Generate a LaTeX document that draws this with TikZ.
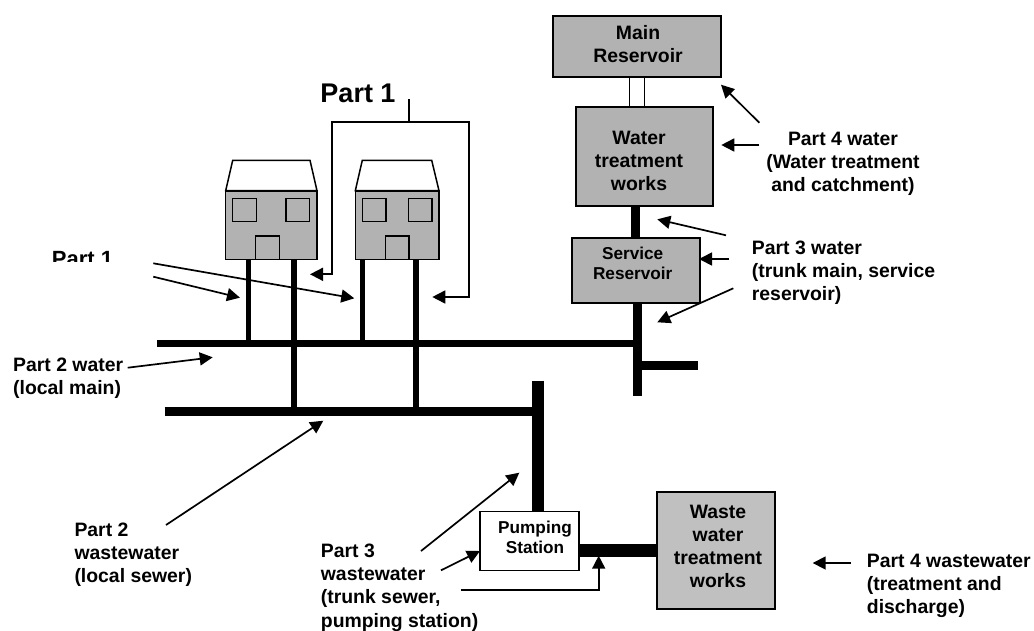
\documentclass[tikz,border=0pt]{standalone}
\usepackage{fontspec}
\setmainfont{Liberation Sans}
\usetikzlibrary{calc, positioning, arrows.meta}
\definecolor{boxgray}{HTML}{B2B2B2}
\definecolor{wastegray}{HTML}{C0C0C0}
\tikzset{
  graybox/.style={draw, rectangle, line width=1.6pt, fill=boxgray, inner sep=0pt, outer sep=0pt},
  partlabel/.style={font=\fontsize{19.4}{23.2}\selectfont\bfseries, align=left, inner sep=0pt},
  boxlabel/.style={font=\fontsize{19.4}{23}\selectfont\bfseries, align=center, inner sep=0pt},
  smalllabel/.style={font=\fontsize{17.2}{20}\selectfont\bfseries, align=center, inner sep=0pt},
  callout/.style={line width=1.7pt, -{Triangle[length=13pt, width=13pt]}},
  pipe/.style={line width=#1, line cap=butt},
  detail/.style={draw, line width=1.5pt}
}
\begin{document}
\begin{tikzpicture}[x=1pt, y=-1pt]
  \useasboundingbox (0,0) rectangle (1034,630);

  % water side boxes
  \node[graybox, minimum width=168pt, minimum height=61pt] (mainres) at (636.8,46.5) {};
  \node[boxlabel] (mainrestext) at (638,44) {Main\\Reservoir};
  \node[graybox, minimum width=137pt, minimum height=99pt] (watertreat) at (644.4,156.5) {};
  \node[boxlabel] (watertext) at (639,161) {Water\\treatment\\works};
  \node[graybox, minimum width=128pt, minimum height=65pt] (servres) at (635.8,270.4) {};
  \node[smalllabel] (servtext) at (632.7,263.5) {Service\\Reservoir};

  % wastewater side boxes
  \node[graybox, fill=white, minimum width=99pt, minimum height=59pt] (pumping) at (529.6,540.8) {};
  \node[smalllabel] (pumptext) at (535,537.5) {Pumping\\Station};
  \node[graybox, fill=wastegray, minimum width=118pt, minimum height=117pt] (wastetreat) at (716,550.7) {};
  \node[boxlabel] (wastetext) at (718,546) {Waste\\water\\treatment\\works};

  % houses
  \draw[detail, fill=white] (225.7,190.7) -- (232.7,160.3) -- (310,160.3) -- (317,190.7) -- cycle;
  \draw[detail, fill=white] (355.3,190.7) -- (362.3,160.3) -- (431.7,160.3) -- (439,190.7) -- cycle;
  \node[graybox, minimum width=91.3pt, minimum height=68.6pt] (house1) at (271.3,225) {};
  \node[graybox, minimum width=83.7pt, minimum height=68.6pt] (house2) at (397.2,225) {};
  \foreach \x in {232.7, 286, 362.3, 408.3} {
    \draw[detail] (\x,198.3) rectangle ++(23.6,23);
  }
  \foreach \x in {255.7, 385.3} {
    \draw[detail] (\x,259.3) rectangle ++(23.6,-23.3);
  }

  % pipe junctions
  \coordinate (mainstart) at (157,343.3);
  \coordinate (mainend) at (637,343.3);
  \coordinate (tap1) at (248.3,343.3);
  \coordinate (tap2) at (362.7,343.3);
  \coordinate (sewerstart) at (164.7,411.3);
  \coordinate (sewerend) at (538,411.3);
  \coordinate (drain1) at (294,411.3);
  \coordinate (drain2) at (415.7,411.3);
  \coordinate (trunkend) at (637,395.7);
  \coordinate (branchstart) at (637,365.5);
  \coordinate (branchend) at (697.5,365.5);
  \coordinate (sewertop) at (538,380.7);

  \draw[pipe=6.5pt] (mainstart) -- (mainend);
  \draw[pipe=9pt] (sewerstart) -- (sewerend);
  \draw[pipe=4.7pt] (house1.south -| tap1) -- (tap1);
  \draw[pipe=4.7pt] (house2.south -| tap2) -- (tap2);
  \draw[pipe=6pt] (house1.south -| drain1) -- (drain1);
  \draw[pipe=6pt] (house2.south -| drain2) -- (drain2);
  \draw[pipe=9pt] (watertreat.south -| servres) -- (servres.north);
  \draw[pipe=9pt] (servres.south) ++(1.2,0) -- (trunkend);
  \draw[pipe=9pt] (branchstart) -- (branchend);
  \draw[pipe=12.7pt] (sewertop) -- (sewertop |- pumping.north);
  \draw[pipe=12.7pt] (pumping.east |- 0,550.3) -- (wastetreat.west |- 0,550.3);
  \draw[line width=1.3pt] ([xshift=-7.5pt]mainres.south) -- ([xshift=-7.5pt]mainres.south |- watertreat.north);
  \draw[line width=1.3pt] ([xshift=7.5pt]mainres.south) -- ([xshift=7.5pt]mainres.south |- watertreat.north);

  % labels
  \node[font=\fontsize{27}{30}\selectfont\bfseries, inner sep=0pt] (parttop) at (358,93) {Part 1};
  \begin{scope}
    \clip (40,240) rectangle (130,261.5);
    \node[font=\fontsize{22}{26}\selectfont\bfseries, inner sep=0pt] (partleft) at (82.5,259) {Part 1};
  \end{scope}
  \node[partlabel, anchor=west] (part2water) at (13,378) {Part 2 water\\(local main)};
  \node[partlabel, anchor=west] (part2waste) at (74.3,554.5) {Part 2\\wastewater\\(local sewer)};
  \node[partlabel, anchor=west] (part3waste) at (320.7,587.5) {Part 3\\wastewater\\(trunk sewer,\\pumping station)};
  \node[partlabel, align=center] (part4water) at (843,164) {Part 4 water\\(Water treatment\\and catchment)};
  \node[partlabel, anchor=west] (part3water) at (751.7,272.5) {Part 3 water\\(trunk main, service\\reservoir)};
  \node[partlabel, anchor=west] (part4waste) at (866.7,586) {Part 4 wastewater\\(treatment and\\discharge)};

  % part 1 bracket
  \coordinate (stemtop) at (408.7,99.3);
  \coordinate (stemfoot) at (408.7,122.3);
  \coordinate (bracketleft) at (331.7,122.3);
  \coordinate (bracketright) at (469.3,122.3);
  \coordinate (tipleft) at (310,274.3);
  \coordinate (tipright) at (432.3,297);
  \draw[line width=1.7pt] (stemtop) -- (stemfoot);
  \draw[callout] (stemfoot) -- (bracketleft) |- (tipleft);
  \draw[callout] (stemfoot) -- (bracketright) |- (tipright);

  % free callouts
  \coordinate (a1) at (153.3,263.3);  \coordinate (b1) at (354.3,298.3);
  \coordinate (a2) at (153.3,276.7);  \coordinate (b2) at (240,297.7);
  \coordinate (a3) at (127.7,367.7);  \coordinate (b3) at (212.7,357.3);
  \coordinate (a4) at (166,525);      \coordinate (b4) at (323.3,420.7);
  \coordinate (a5) at (421,551);      \coordinate (b5) at (519.3,472.7);
  \coordinate (a6) at (441,570.3);    \coordinate (b6) at (480,551);
  \coordinate (a7) at (460.7,589.7);  \coordinate (b7) at (598.7,555.7);
  \coordinate (a8) at (851,563);      \coordinate (b8) at (812.7,563);
  \coordinate (a9) at (759.3,122.7);  \coordinate (b9) at (721,84.7);
  \coordinate (a10) at (759.3,145);   \coordinate (b10) at (721.3,145);
  \coordinate (a11) at (726,235.3);   \coordinate (b11) at (657.3,219.3);
  \coordinate (a12) at (729,259);     \coordinate (b12) at (699,259);
  \coordinate (a13) at (733.3,288.3); \coordinate (b13) at (657.3,322.3);

  \foreach \i in {1,2,3,4,5,6,8,9,10,11,12,13} {
    \draw[callout] (a\i) -- (b\i);
  }
  \draw[callout] (a7) -| (b7);
\end{tikzpicture}
\end{document}
